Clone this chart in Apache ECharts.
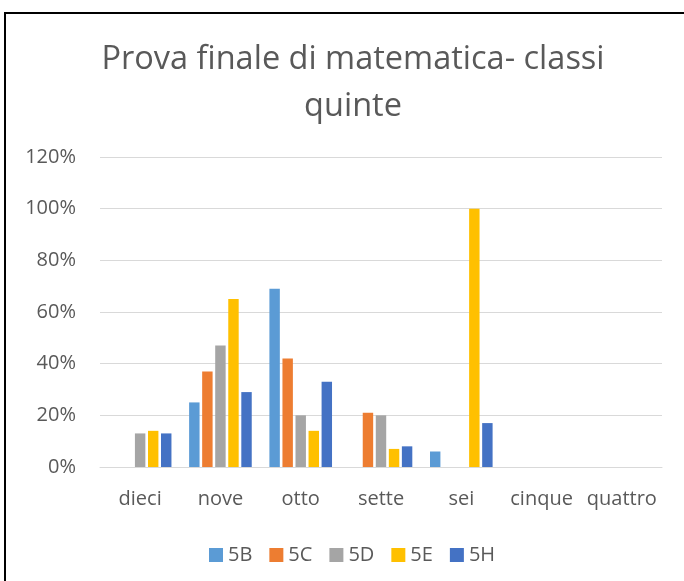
<!DOCTYPE html>
<html><head><meta charset="utf-8">
<script src="https://cdn.jsdelivr.net/npm/echarts@6/dist/echarts.min.js"></script>
<style>html,body{margin:0;padding:0;background:#fff;}#c{width:684px;height:581px;}</style>
</head><body><div id="c"></div>
<script>
const categories = ['dieci','nove','otto','sette','sei','cinque','quattro'];
const s5B = [0, 25, 69, 0, 6, 0, 0];
const s5C = [0, 37, 42, 21, 0, 0, 0];
const s5D = [13, 47, 20, 20, 0, 0, 0];
const s5E = [14, 65, 14, 7, 100, 0, 0];
const s5H = [13, 29, 33, 8, 17, 0, 0];
const seriesNames = ['5B','5C','5D','5E','5H'];
const seriesColors = ['#5B9BD5','#ED7D31','#A5A5A5','#FFC000','#4472C4'];
const yTicks = [0,20,40,60,80,100,120];

const font = 'Open Sans, sans-serif';
const chart = echarts.init(document.getElementById('c'), null, {renderer:'canvas'});
const data = [s5B,s5C,s5D,s5E,s5H];
chart.setOption({
  animation:false,
  backgroundColor:'#fff',
  graphic:[{type:'rect', shape:{x:5,y:13,width:720,height:620}, style:{fill:'none',stroke:'#000',lineWidth:2}, z:100}],
  title:{text:'Prova finale di matematica- classi\nquinte', left:348, top:31, textAlign:'center',
    textStyle:{fontFamily:font, fontSize:32.5, fontWeight:'normal', color:'#595959', lineHeight:47}},
  legend:{data:seriesNames, top:540, left:204, itemWidth:14, itemHeight:14, itemGap:17,
    icon:'rect', textStyle:{fontFamily:font, fontSize:20, color:'#595959'}},
  grid:{left:100, right:22, top:157, bottom:114, containLabel:false},
  xAxis:{type:'category', data:categories, axisTick:{show:false},
    axisLine:{lineStyle:{color:'#d9d9d9', width:1}},
    axisLabel:{interval:0, fontFamily:font, fontSize:20, color:'#595959', margin:22}},
  yAxis:{type:'value', min:0, max:120, interval:20, axisLine:{show:false}, axisTick:{show:false},
    splitLine:{lineStyle:{color:'#d9d9d9', width:1}},
    axisLabel:{fontFamily:font, fontSize:20, color:'#595959', margin:24, formatter:v=>v+'%'}},
  series: seriesNames.map((n,i)=>({name:n, type:'bar', data:data[i], barGap:'25%', barCategoryGap:'22%',
    itemStyle:{color:seriesColors[i]}}))
});
</script></body></html>
